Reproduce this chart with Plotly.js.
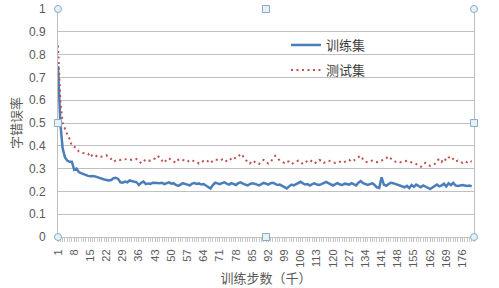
<!DOCTYPE html>
<html>
<head>
<meta charset="utf-8">
<script src="https://cdn.plot.ly/plotly-3.0.1.min.js"></script>
<style>html,body{margin:0;padding:0;background:#fff;}#chart{width:499px;height:288px;}</style>
</head>
<body>
<div id="chart"></div>
<script>
// categories 1..180 (training steps, thousands)
const steps = Array.from({length: 180}, (_, i) => i + 1);
const tickSteps = [1,8,15,22,29,36,43,50,57,64,71,78,85,92,99,106,113,120,127,134,141,148,155,162,169,176];
const tickLabels = tickSteps.map(String);

const trainErr = [
0.75,0.50,0.39,0.35,0.335,0.33,0.33,0.295,0.30,0.285,
0.28,0.275,0.27,0.268,0.266,0.268,0.266,0.262,0.26,0.256,
0.252,0.25,0.248,0.25,0.258,0.26,0.255,0.24,0.238,0.243,
0.24,0.248,0.245,0.243,0.24,0.228,0.238,0.243,0.232,0.235,
0.233,0.238,0.236,0.237,0.236,0.238,0.232,0.235,0.240,0.234,
0.236,0.228,0.224,0.230,0.236,0.233,0.229,0.226,0.234,0.237,
0.233,0.235,0.230,0.232,0.226,0.218,0.213,0.228,0.238,0.235,
0.232,0.236,0.240,0.234,0.230,0.236,0.232,0.228,0.236,0.240,
0.234,0.230,0.226,0.232,0.236,0.234,0.230,0.226,0.232,0.237,
0.234,0.230,0.236,0.238,0.233,0.228,0.230,0.224,0.218,0.213,
0.222,0.230,0.226,0.232,0.236,0.242,0.235,0.230,0.232,0.226,
0.232,0.235,0.230,0.228,0.232,0.238,0.242,0.236,0.232,0.226,
0.232,0.236,0.230,0.228,0.234,0.232,0.230,0.236,0.232,0.226,
0.238,0.245,0.236,0.232,0.228,0.232,0.236,0.228,0.218,0.215,
0.262,0.230,0.225,0.232,0.238,0.236,0.232,0.230,0.226,0.222,
0.218,0.224,0.214,0.228,0.220,0.230,0.225,0.218,0.226,0.222,
0.216,0.210,0.218,0.224,0.230,0.222,0.226,0.234,0.222,0.236,
0.228,0.238,0.226,0.224,0.226,0.228,0.226,0.224,0.226,0.222
];

const testErr = [
0.84,0.60,0.50,0.47,0.45,0.43,0.40,0.395,0.39,0.375,
0.37,0.368,0.366,0.365,0.35,0.362,0.36,0.352,0.35,0.354,
0.356,0.358,0.352,0.342,0.33,0.336,0.34,0.338,0.34,0.34,
0.342,0.34,0.338,0.34,0.342,0.335,0.323,0.332,0.34,0.336,
0.334,0.34,0.345,0.356,0.35,0.335,0.325,0.34,0.345,0.338,
0.33,0.325,0.338,0.342,0.338,0.335,0.33,0.338,0.335,0.335,
0.33,0.322,0.33,0.334,0.338,0.33,0.324,0.335,0.34,0.338,
0.335,0.34,0.33,0.334,0.332,0.345,0.34,0.35,0.352,0.365,
0.355,0.34,0.33,0.322,0.335,0.33,0.325,0.32,0.332,0.338,
0.33,0.322,0.33,0.345,0.356,0.345,0.335,0.33,0.325,0.333,
0.33,0.32,0.325,0.332,0.335,0.328,0.32,0.325,0.335,0.338,
0.328,0.322,0.33,0.338,0.335,0.325,0.33,0.335,0.332,0.328,
0.325,0.33,0.33,0.325,0.33,0.335,0.338,0.33,0.335,0.345,
0.35,0.356,0.34,0.33,0.328,0.33,0.335,0.33,0.328,0.333,
0.335,0.342,0.345,0.354,0.342,0.335,0.33,0.332,0.328,0.33,
0.335,0.334,0.33,0.328,0.325,0.32,0.315,0.308,0.32,0.325,
0.318,0.312,0.315,0.32,0.335,0.342,0.33,0.345,0.335,0.348,
0.354,0.34,0.33,0.335,0.33,0.325,0.332,0.328,0.335,0.33
];

const seriesNames = ['训练集', '测试集'];
const cjk = '"Noto Sans CJK SC", "Noto Sans", sans-serif';
const num = '"Liberation Sans", Arial, sans-serif';

const traces = [
  {x: steps, y: trainErr, name: seriesNames[0], type: 'scatter', mode: 'lines',
   line: {color: '#4a7ebb', width: 2.5}, legend: 'legend'},
  {x: steps, y: testErr, name: seriesNames[1], type: 'scatter', mode: 'lines',
   line: {color: '#c0504d', width: 2, dash: '2px,3.5px'}, legend: 'legend2'}
];

function handle(xp, yp, round) {
  return {type: round ? 'circle' : 'rect', xref: 'paper', yref: 'paper',
    xsizemode: 'pixel', ysizemode: 'pixel', xanchor: xp, yanchor: yp,
    x0: -3.5, x1: 3.5, y0: -3.5, y1: 3.5,
    fillcolor: '#e4f2f8', line: {color: '#8eaac4', width: 1}, layer: 'above'};
}

const layout = {
  width: 499, height: 288,
  margin: {l: 58, r: 25, t: 9, b: 51, pad: 0},
  paper_bgcolor: '#ffffff', plot_bgcolor: '#ffffff',
  font: {family: num, color: '#595959', size: 12},
  xaxis: {
    range: [1, 181], tickmode: 'array', tickvals: tickSteps, ticktext: tickLabels,
    tickangle: -90, tickfont: {family: num, size: 11, color: '#595959'},
    ticks: 'outside', ticklen: 4, tickcolor: '#bfbfbf', ticklabelstandoff: 3,
    minor: {tick0: 1, dtick: 1, ticks: 'outside', ticklen: 4, tickcolor: '#c8c8c8', showgrid: false},
    showgrid: false, zeroline: false, showline: true, linecolor: '#bfbfbf', linewidth: 1,
    automargin: false,
    title: {text: '训练步数（千）', font: {family: cjk, size: 13, color: '#595959'}, standoff: 4}
  },
  yaxis: {
    range: [0, 1], dtick: 0.1, tick0: 0,
    tickfont: {family: num, size: 12, color: '#595959'},
    ticks: '', ticklabelstandoff: 9,
    showgrid: true, gridcolor: '#c0c0c0', gridwidth: 1,
    zeroline: false, showline: true, mirror: true, linecolor: '#bfbfbf', linewidth: 1,
    automargin: false,
    title: {text: '字错误率', font: {family: cjk, size: 13, color: '#595959'}, standoff: 4}
  },
  showlegend: true,
  legend: {x: 0.548, y: 0.842, xanchor: 'left', yanchor: 'middle', bgcolor: 'rgba(0,0,0,0)',
    font: {family: cjk, size: 13, color: '#404040'}},
  legend2: {x: 0.548, y: 0.732, xanchor: 'left', yanchor: 'middle', bgcolor: 'rgba(0,0,0,0)',
    font: {family: cjk, size: 13, color: '#404040'}},
  shapes: [
    handle(0, 1, true), handle(1, 1, true), handle(0, 0, true), handle(1, 0, true),
    handle(0.5, 1, false), handle(0.5, 0, false), handle(0, 0.5, false), handle(1, 0.5, false)
  ]
};

Plotly.newPlot('chart', traces, layout, {staticPlot: true, displayModeBar: false});
</script>
</body>
</html>
